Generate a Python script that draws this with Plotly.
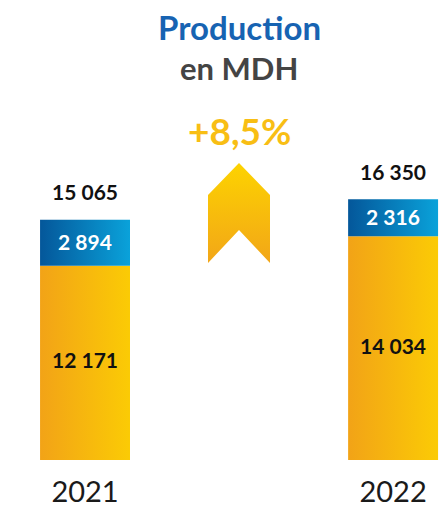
import plotly.graph_objects as go

# Data
years = ['2021', '2022']
base_values = [12171, 14034]      # yellow segment
top_values = [2894, 2316]         # blue segment
totals = [15065, 16350]
growth_text = '+8,5%'

base_labels = ['12 171', '14 034']
top_labels = ['2 894', '2 316']
total_labels = ['15 065', '16 350']

YELLOW_SCALE = [[0, '#F2A317'], [1, '#FBCB05']]
BLUE_SCALE = [[0, '#04579A'], [1, '#0AA2DA']]
ARROW_SCALE = [[0, '#F2A618'], [1, '#FDD300']]

FONT = 'Lato'
BAR_HALF = 0.146

fig = go.Figure()


def add_rect(fig, xc, y0, y1, colorscale):
    xs = [xc - BAR_HALF, xc + BAR_HALF, xc + BAR_HALF, xc - BAR_HALF, xc - BAR_HALF]
    ys = [y0, y0, y1, y1, y0]
    fig.add_trace(go.Scatter(
        x=xs, y=ys,
        mode='lines',
        line=dict(width=0),
        fill='toself',
        fillgradient=dict(type='horizontal', colorscale=colorscale),
        hoverinfo='skip',
        showlegend=False,
    ))


# stacked bars with horizontal gradients
num_font = dict(family=FONT, size=21, color='#111111', weight='bold')
for i, year in enumerate(years):
    add_rect(fig, i, 0, base_values[i], YELLOW_SCALE)
    add_rect(fig, i, base_values[i], base_values[i] + top_values[i], BLUE_SCALE)

    fig.add_annotation(x=i, y=base_values[i] / 2, yshift=3, text=base_labels[i],
                       showarrow=False, font=num_font)
    fig.add_annotation(x=i, y=base_values[i] + top_values[i] / 2, yshift=1, text=top_labels[i],
                       showarrow=False, font=dict(num_font, color='white'))
    fig.add_annotation(x=i, y=totals[i], yshift=28, text=total_labels[i],
                       showarrow=False, font=num_font)

# growth arrow (decoration, pixel-like overlay axes)
arrow_x = [208, 239, 270, 270, 239, 208, 208]
arrow_y = [195, 163, 195, 263, 230, 263, 195]
fig.add_trace(go.Scatter(
    x=arrow_x, y=arrow_y, xaxis='x2', yaxis='y2',
    mode='lines', line=dict(width=0),
    fill='toself',
    fillgradient=dict(type='vertical', colorscale=ARROW_SCALE),
    hoverinfo='skip', showlegend=False,
))

fig.add_annotation(x=239, y=27, xref='x2', yref='y2', text='Production', showarrow=False,
                   font=dict(family=FONT, size=33, color='#1763B2', weight='bold'))
fig.add_annotation(x=239, y=68, xref='x2', yref='y2', text='en MDH', showarrow=False,
                   font=dict(family=FONT, size=31, color='#444444', weight='bold'))
fig.add_annotation(x=239, y=130, xref='x2', yref='y2', text=growth_text, showarrow=False,
                   font=dict(family=FONT, size=37, color='#F8BE14', weight='bold'))

fig.update_layout(
    width=443, height=507,
    margin=dict(l=0, r=0, t=0, b=47),
    plot_bgcolor='white', paper_bgcolor='white',
    xaxis=dict(range=[-0.276, 1.162], tickvals=[0, 1], ticktext=years,
               showgrid=False, zeroline=False, showline=False, ticks='',
               ticklabelstandoff=12,
               tickfont=dict(family=FONT, size=29, color='#1a1a1a')),
    yaxis=dict(range=[0, 28840], visible=False),
    xaxis2=dict(range=[0, 443], overlaying='x', visible=False),
    yaxis2=dict(range=[460, 0], overlaying='y', visible=False),
    showlegend=False,
)

fig.write_html('out.html', config={'displayModeBar': False},
               post_script="document.body.style.margin='0';")
